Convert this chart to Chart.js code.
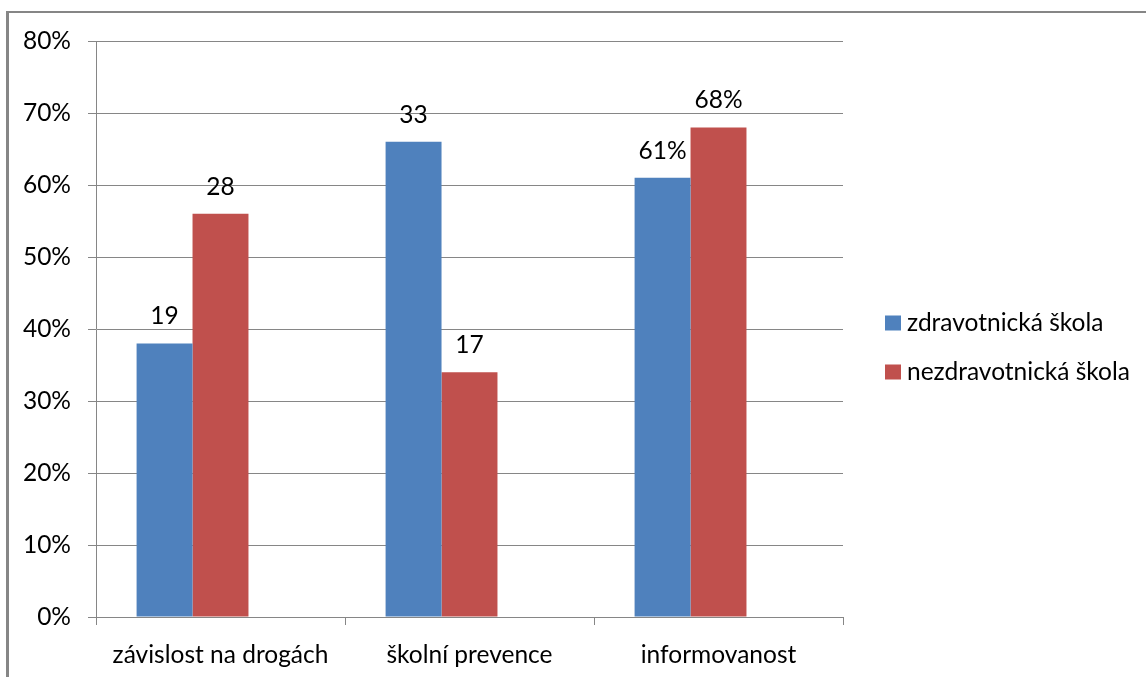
<!DOCTYPE html>
<html>
<head>
<meta charset="utf-8">
<script src="https://cdn.jsdelivr.net/npm/chart.js@4"></script>
<style>
  html, body { margin: 0; padding: 0; background: #ffffff; }
  #wrap { position: relative; width: 1146px; height: 677px; overflow: hidden; }
  #frame {
    position: absolute; left: 6px; top: 11px; width: 1300px; height: 800px;
    border-left: 3px solid #868686; border-top: 2px solid #868686;
  }
  #c { position: absolute; left: 0; top: 0; }
</style>
</head>
<body>
<div id="wrap">
  <div id="frame"></div>
  <canvas id="c" width="1146" height="677"></canvas>
</div>
<script>
// Categories and series (percent of respondents)
const categories = ['závislost na drogách', 'školní prevence', 'informovanost'];
const seriesNames = ['zdravotnická škola', 'nezdravotnická škola'];
const zdravotnicka = [38, 66, 61];
const nezdravotnicka = [56, 34, 68];
// third, empty slot in each cluster (keeps bars left of the category centre)
const emptySeries = [null, null, null];
// value labels written above the bars
const zdravotnickaLabels = ['19', '33', '61%'];
const nezdravotnickaLabels = ['28', '17', '68%'];
// y axis
const yMin = 0;
const yMax = 80;
const yStep = 10;

const BLUE = '#4F81BD';
const RED = '#C0504D';
const GRID = '#868686';
const FONT = 'Lato, "Open Sans", sans-serif';
const FONT_SIZE = 24.5;

const barLabels = {
  id: 'barLabels',
  afterDatasetsDraw(chart) {
    const ctx = chart.ctx;
    const sets = [zdravotnickaLabels, nezdravotnickaLabels];
    ctx.save();
    ctx.font = FONT_SIZE + 'px ' + FONT;
    ctx.fillStyle = '#000000';
    ctx.textAlign = 'center';
    ctx.textBaseline = 'middle';
    sets.forEach((labels, di) => {
      const meta = chart.getDatasetMeta(di);
      meta.data.forEach((bar, i) => {
        ctx.fillText(labels[i], bar.x, bar.y - 27);
      });
    });
    ctx.restore();
  }
};

const sideLegend = {
  id: 'sideLegend',
  afterDraw(chart) {
    const ctx = chart.ctx;
    const a = chart.chartArea;
    const colors = [BLUE, RED];
    ctx.save();
    ctx.font = FONT_SIZE + 'px ' + FONT;
    ctx.textAlign = 'left';
    ctx.textBaseline = 'middle';
    seriesNames.forEach((name, i) => {
      const cy = a.top + 282 + i * 49;
      const x = a.right + 42;
      ctx.fillStyle = colors[i];
      ctx.fillRect(x, cy - 7.5, 16, 15);
      ctx.fillStyle = '#000000';
      ctx.fillText(name, x + 22, cy);
    });
    ctx.restore();
  }
};

new Chart(document.getElementById('c'), {
  type: 'bar',
  data: {
    labels: categories,
    datasets: [
      { label: seriesNames[0], data: zdravotnicka, backgroundColor: BLUE },
      { label: seriesNames[1], data: nezdravotnicka, backgroundColor: RED },
      { label: '', data: emptySeries, backgroundColor: 'rgba(0,0,0,0)' }
    ]
  },
  options: {
    responsive: false,
    devicePixelRatio: 1,
    animation: false,
    layout: { padding: { top: 41, right: 303, bottom: 0, left: 0 } },
    datasets: { bar: { categoryPercentage: 0.674, barPercentage: 1.0 } },
    plugins: {
      legend: { display: false },
      tooltip: { enabled: false }
    },
    scales: {
      x: {
        grid: { display: true, drawOnChartArea: false, drawTicks: true, tickLength: 8, color: GRID, offset: true },
        border: { display: true, color: GRID, width: 1 },
        ticks: { color: '#000000', font: { family: FONT, size: FONT_SIZE }, padding: 15, maxRotation: 0 },
        afterFit(scale) { scale.height = 60; }
      },
      y: {
        min: yMin, max: yMax,
        grid: { color: GRID, lineWidth: 1, tickLength: 8, drawTicks: true },
        border: { display: true, color: GRID, width: 1 },
        ticks: {
          stepSize: yStep, color: '#000000', padding: 17,
          font: { family: FONT, size: FONT_SIZE },
          callback: v => v + '%'
        },
        afterFit(scale) { scale.width = 96; }
      }
    }
  },
  plugins: [barLabels, sideLegend]
});
</script>
</body>
</html>
